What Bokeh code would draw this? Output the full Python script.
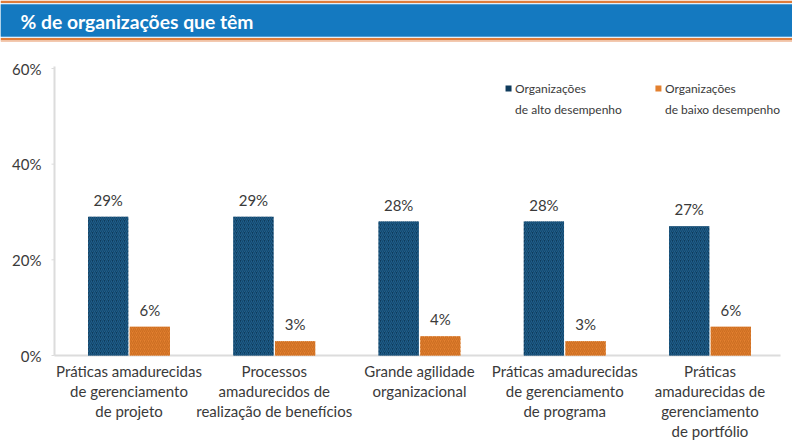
from bokeh.plotting import figure
from bokeh.models import Range1d, ColumnDataSource
from bokeh.core.properties import value
from bokeh.embed import file_html
from bokeh.resources import INLINE

# Data
categories = [
    "Práticas amadurecidas\nde gerenciamento\nde projeto",
    "Processos\namadurecidos de\nrealização de benefícios",
    "Grande agilidade\norganizacional",
    "Práticas amadurecidas\nde gerenciamento\nde programa",
    "Práticas\namadurecidas de\ngerenciamento\nde portfólio",
]
alto = [29, 29, 28, 28, 27]
baixo = [6, 3, 4, 3, 6]
series_names = ["Organizações\nde alto desempenho", "Organizações\nde baixo desempenho"]
y_ticks = [0, 20, 40, 60]
y_tick_labels = ["0%", "20%", "40%", "60%"]
title = "% de organizações que têm"

FONT = "Lato"
TEXT = "#3a3a3a"
DARK = "#0f3b5c"
DARK_HATCH = "#1f5f8c"
ORANGE = "#e3802f"
ORANGE_HATCH = "#cc6e22"
BLUE = "#1479c0"
HEADER_ORANGE = "#df7c3a"
AXIS = "#dcdcdc"

W, H = 792, 443

# Canvas-wide frame: categories at 145.25 px spacing, 0% at y=355, 60% at y=68
px_per_cat = 145.25
cat0_px = 128.5
px_per_pct = 287 / 60
zero_px = 355
x_lo = (0 - cat0_px) / px_per_cat
x_hi = (W - cat0_px) / px_per_cat
y_hi = zero_px / px_per_pct
y_lo = -(H - zero_px) / px_per_pct

p = figure(width=W, height=H, output_backend="svg", toolbar_location=None,
           x_range=Range1d(x_lo, x_hi), y_range=Range1d(y_lo, y_hi),
           x_axis_location=None, y_axis_location=None,
           min_border=0, outline_line_color=None)
p.grid.visible = False
# pixel-space ranges for page furniture (header, axis lines)
p.extra_x_ranges = {"px": Range1d(0, W)}
p.extra_y_ranges = {"px": Range1d(H, 0)}

# ---- header band ----
def band(top, bottom, color):
    p.quad(left=[0], right=[W], top=[top], bottom=[bottom], fill_color=color, line_color=None,
           x_range_name="px", y_range_name="px")

band(0, 2.5, HEADER_ORANGE)
band(3.2, 36.8, "#8fc1e6")
band(4, 36, BLUE)
band(37.5, 40, HEADER_ORANGE)
band(40, 41.5, "#f3c9b0")
p.text(x=[20], y=[20.5], text=[title], text_color="white",
       text_font=value(FONT), text_font_style="bold", text_font_size="19.3px",
       text_baseline="middle", text_align="left", x_range_name="px", y_range_name="px")

# ---- axes ----
axis_left_px = 54
axis_right_px = 780
p.segment(x0=[axis_left_px], x1=[axis_left_px], y0=[0], y1=[y_ticks[-1] + 0.4],
          line_color=AXIS, line_width=2, x_range_name="px")
p.segment(x0=[axis_left_px], x1=[axis_right_px], y0=[0], y1=[0],
          line_color=AXIS, line_width=2, x_range_name="px")
p.segment(x0=[axis_left_px - 3] * len(y_ticks), x1=[axis_left_px] * len(y_ticks),
          y0=y_ticks, y1=y_ticks, line_color=AXIS, line_width=1, x_range_name="px")
p.text(x=[axis_left_px - 13] * len(y_ticks), y=y_ticks, text=y_tick_labels,
       text_color=TEXT, text_font=value(FONT), text_font_size="15px",
       text_align="right", text_baseline="middle", x_range_name="px")

# ---- bars ----
n = len(categories)
xs = list(range(n))
bw = 0.277
off = 0.1435

src = ColumnDataSource(dict(
    xa=[x - off for x in xs], xb=[x + off for x in xs], alto=alto, baixo=baixo,
    la=[f"{v}%" for v in alto], lb=[f"{v}%" for v in baixo],
))

p.vbar(x="xa", top="alto", width=bw, bottom=0, source=src, fill_color=DARK, line_color=None,
       hatch_pattern="/", hatch_color=DARK_HATCH, hatch_scale=4, hatch_weight=1.2)
p.vbar(x="xb", top="baixo", width=bw, bottom=0, source=src, fill_color=ORANGE, line_color=None,
       hatch_pattern="/", hatch_color=ORANGE_HATCH, hatch_scale=4, hatch_weight=1.2)

for xcol, ycol, lcol in (("xa", "alto", "la"), ("xb", "baixo", "lb")):
    p.text(x=xcol, y=ycol, text=lcol, source=src, text_color=TEXT, text_font=value(FONT),
           text_font_size="15px", text_align="center", text_baseline="bottom", y_offset=-8)

# category labels under the baseline
p.text(x=xs, y=[0] * n, text=categories, text_color=TEXT, text_font=value(FONT),
       text_font_size="15px", text_align="center", text_baseline="top",
       text_line_height=1.12, y_offset=6)

# ---- legend ----
leg_x = [2.613, 3.645]
leg_y = 55.8
for lx, col, name in zip(leg_x, [DARK, ORANGE], series_names):
    p.scatter(x=[lx], y=[leg_y], marker="square", size=6, fill_color=col, line_color=None)
    p.text(x=[lx + 0.045], y=[leg_y], text=[name], text_color=TEXT,
           text_font=value(FONT), text_font_size="12px", text_baseline="top",
           text_line_height=1.4, y_offset=-8)

open("out.html", "w").write(file_html(p, INLINE))
